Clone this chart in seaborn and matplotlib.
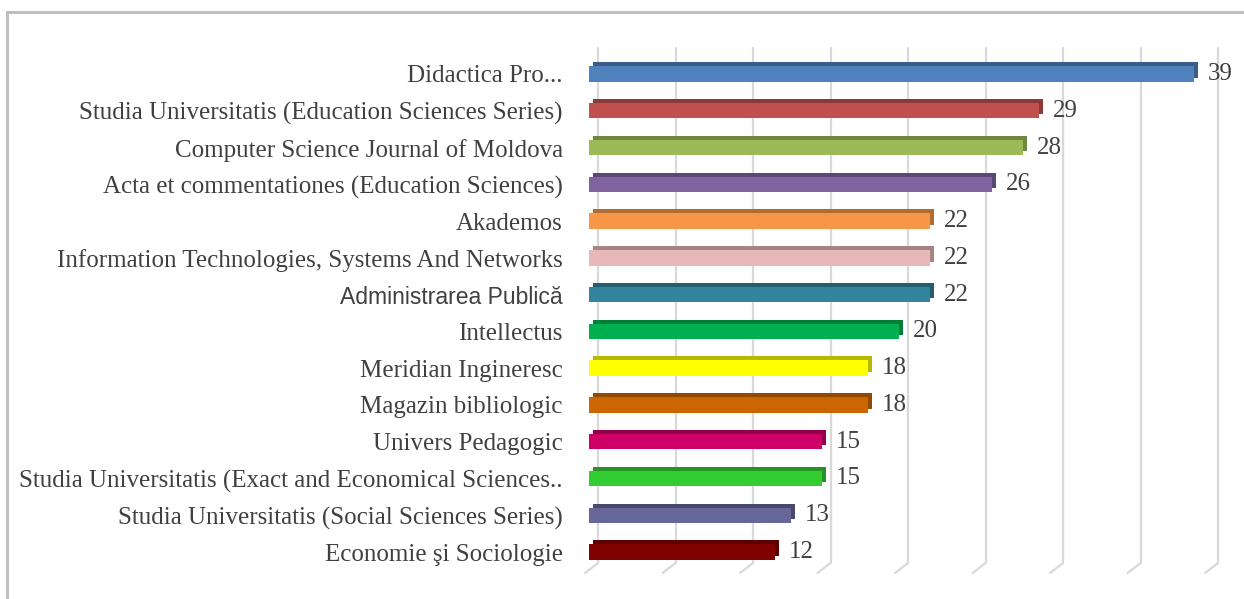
import pandas as pd
import matplotlib.pyplot as plt
import seaborn as sns
from matplotlib.transforms import ScaledTranslation, blended_transform_factory
from matplotlib.patches import Rectangle
from matplotlib.colors import to_rgb

# data
journals = [
    'Didactica Pro...',
    'Studia Universitatis (Education Sciences Series)',
    'Computer Science Journal of Moldova',
    'Acta et commentationes (Education Sciences)',
    'Akademos',
    'Information Technologies, Systems And Networks',
    'Administrarea Publică',
    'Intellectus',
    'Meridian Ingineresc',
    'Magazin bibliologic',
    'Univers Pedagogic',
    'Studia Universitatis (Exact and Economical Sciences..',
    'Studia Universitatis (Social Sciences Series)',
    'Economie şi Sociologie',
]
counts = [39, 29, 28, 26, 22, 22, 22, 20, 18, 18, 15, 15, 13, 12]
bar_colors = ['#4F81BD', '#C0504D', '#9BBB59', '#8064A2', '#F79646', '#E6B9B8',
              '#31849B', '#00B050', '#FFFF00', '#CC6600', '#CC0066', '#33CC33',
              '#666699', '#800000']
grid_values = [0, 5, 10, 15, 20, 25, 30, 35, 40]

df = pd.DataFrame({'journal': journals, 'count': counts})
dark_colors = [tuple(c * 0.72 for c in to_rgb(col)) for col in bar_colors]

sns.set_style("white")
plt.rcParams['font.family'] = ['Liberation Serif', 'DejaVu Serif']
text_col = '#404040'

fig = plt.figure(figsize=(12.44, 5.99), dpi=100)
ax = fig.add_axes([0.4735, 0.0477, 0.4984, 0.8595])

# back copy of the bars, shifted up/right -> 3D top and side faces
sns.barplot(data=df, x='count', y='journal', hue='journal', palette=dark_colors,
            legend=False, width=0.42, ax=ax, saturation=1, linewidth=0)
shift = ScaledTranslation(4 / 100, 4 / 100, fig.dpi_scale_trans)
for p in list(ax.patches):
    p.set_transform(ax.transData + shift)
    p.set_zorder(2)
n_back = len(ax.containers)

# front faces
sns.barplot(data=df, x='count', y='journal', hue='journal', palette=bar_colors,
            legend=False, width=0.42, ax=ax, saturation=1, linewidth=0)
for p in ax.patches[len(journals):]:
    p.set_zorder(3)

for cont in ax.containers[n_back:]:
    ax.bar_label(cont, padding=10, fontsize=18, color=text_col, zorder=4)

ax.set_xlim(0, 40)
ax.set_ylim(13.5, -0.5)
ax.set_xlabel('')
ax.set_ylabel('')
ax.set_xticks([])
for s in ax.spines.values():
    s.set_visible(False)
ax.tick_params(axis='y', length=0, pad=19, labelsize=18, labelcolor=text_col)
for lbl in ax.get_yticklabels():
    if lbl.get_text() == 'Administrarea Publică':
        lbl.set_fontfamily(['Liberation Sans', 'DejaVu Sans'])
        lbl.set_fontsize(16.5)

# back wall gridlines with slanted floor segments
gtr = blended_transform_factory(ax.transData, ax.transAxes) + ScaledTranslation(9 / 100, 0, fig.dpi_scale_trans)
ftr = blended_transform_factory(ax.transData, ax.transAxes)
for g in grid_values:
    ax.plot([g, g], [0.0144, 1.0148], color='#D9D9D9', lw=1.6, transform=gtr, clip_on=False, zorder=1)
    ax.plot([g + 9 / 15.5, g - 4 / 15.5], [0.0144, -0.005], color='#D9D9D9', lw=1.6,
            transform=ftr, clip_on=False, zorder=1)

# chart frame
fig.patches.append(Rectangle((7 / 1244, -0.1), 1.2, 1 - 12 / 599 + 0.1, transform=fig.transFigure,
                             fill=False, edgecolor='#BFBFBF', lw=2.2))

fig.savefig('out.png', dpi=100)
